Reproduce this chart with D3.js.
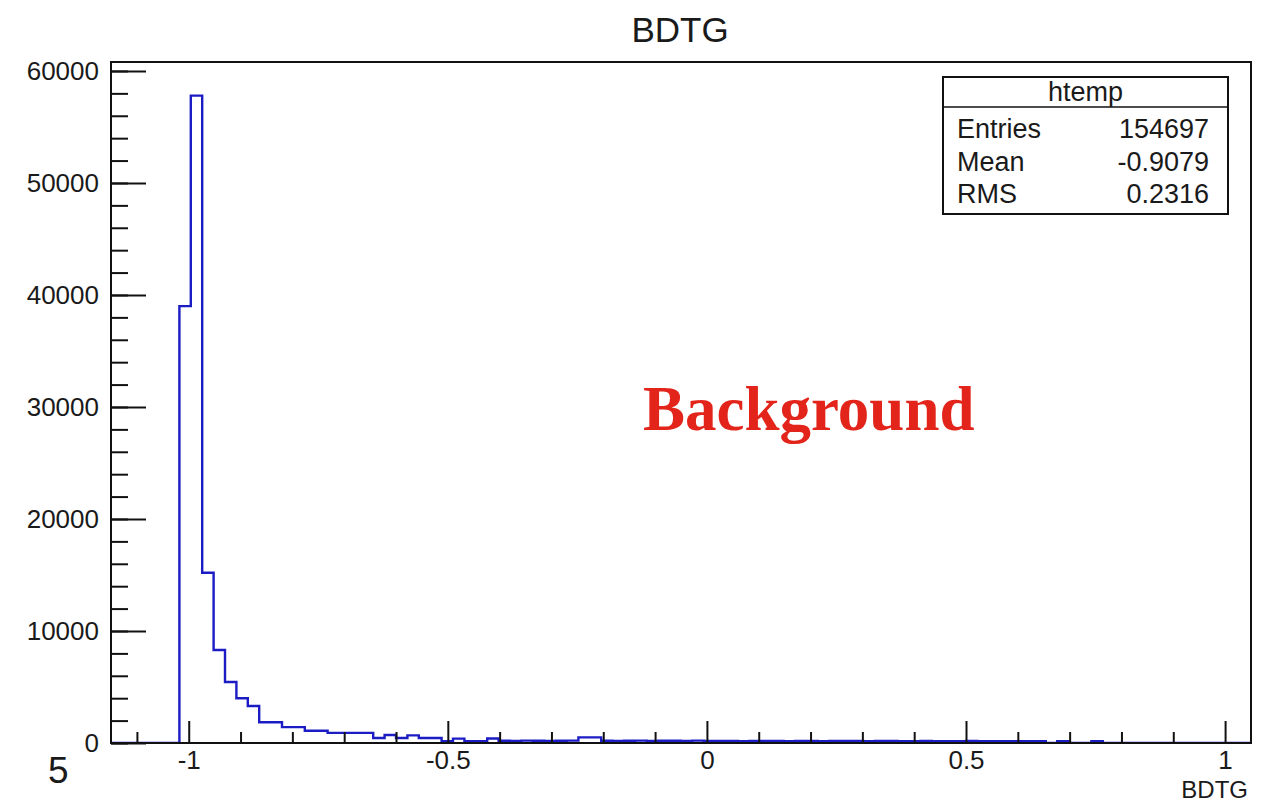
<!DOCTYPE html>
<html>
<head>
<meta charset="utf-8">
<script src="https://cdnjs.cloudflare.com/ajax/libs/d3/7.9.0/d3.min.js"></script>
<style>
  body { margin: 0; background: #fff; }
  text { font-family: "Liberation Sans", Arial, sans-serif; fill: #1a1a1a; }
</style>
</head>
<body>
<div id="chart"></div>
<script>
// histogram range and binning (htemp, 100 bins)
const xMin = -1.15, xMax = 1.05, nBins = 100;

// bin contents
const counts = [
  0, 0, 0, 0, 0, 0, 39000, 57800, 15200, 8300,
  5450, 4000, 3300, 1850, 1850, 1420, 1420, 1100, 1100, 900,
  900, 900, 900, 450, 720, 450, 680, 450, 450, 160,
  390, 170, 170, 400, 200, 190, 210, 200, 190, 200,
  210, 500, 500, 200, 190, 200, 210, 190, 200, 200,
  190, 210, 180, 190, 180, 170, 190, 180, 180, 170,
  190, 180, 170, 180, 190, 180, 170, 180, 180, 170,
  170, 180, 170, 160, 170, 180, 170, 160, 170, 170,
  160, 170, 0, 160, 0, 0, 160, 0, 0, 0,
  0, 0, 0, 0, 0, 0, 0, 0, 0, 0
];

const yMajor = [0, 10000, 20000, 30000, 40000, 50000, 60000];
const xMajor = [-1, -0.5, 0, 0.5, 1];
const xMinor = [-1.1, -0.9, -0.8, -0.7, -0.6, -0.4, -0.3, -0.2, -0.1,
                0.1, 0.2, 0.3, 0.4, 0.6, 0.7, 0.8, 0.9];
const yMinor = d3.range(0, 60800, 2000);

const stats = [["Entries", "154697"], ["Mean", "-0.9079"], ["RMS", "0.2316"]];

const W = 1268, H = 803;
const m = { left: 111, top: 62, right: 1251, bottom: 743 };

const svg = d3.select("#chart").append("svg")
  .attr("width", W).attr("height", H);

const x = d3.scaleLinear().domain([xMin, xMax]).range([m.left, m.right]);
const y = d3.scaleLinear().domain([0, 60800]).range([m.bottom, m.top]);

svg.append("clipPath").attr("id", "plotclip")
  .append("rect")
  .attr("x", m.left).attr("y", m.top)
  .attr("width", m.right - m.left).attr("height", m.bottom - m.top);

// step outline
const binW = (xMax - xMin) / nBins;
const pts = [[xMin, 0]];
counts.forEach((c, i) => {
  pts.push([xMin + i * binW, c]);
  pts.push([xMin + (i + 1) * binW, c]);
});
pts.push([xMax, 0]);

svg.append("path")
  .datum(pts)
  .attr("clip-path", "url(#plotclip)")
  .attr("fill", "none")
  .attr("stroke", "#1c1cc4")
  .attr("stroke-width", 2.4)
  .attr("d", d3.line().x(d => x(d[0])).y(d => y(d[1])));

// y axis (ticks pointing inside)
const gy = svg.append("g").attr("transform", `translate(${m.left},0)`);
gy.call(d3.axisLeft(y).tickValues(yMinor).tickSize(-17).tickFormat(""));
gy.call(g => g.select(".domain").remove());
const gy2 = svg.append("g").attr("transform", `translate(${m.left},0)`);
gy2.call(d3.axisLeft(y).tickValues(yMajor).tickSize(-35).tickPadding(12).tickFormat(d => String(d)));
gy2.call(g => g.select(".domain").remove());

// x axis
const gx = svg.append("g").attr("transform", `translate(0,${m.bottom})`);
gx.call(d3.axisBottom(x).tickValues(xMinor).tickSize(-11).tickFormat(""));
gx.call(g => g.select(".domain").remove());
const gx2 = svg.append("g").attr("transform", `translate(0,${m.bottom})`);
gx2.call(d3.axisBottom(x).tickValues(xMajor).tickSize(-22).tickPadding(8).tickFormat(d => String(d)));
gx2.call(g => g.select(".domain").remove());

svg.selectAll(".tick line").attr("stroke", "#111").attr("stroke-width", 2);
svg.selectAll(".tick text").attr("font-size", 26).attr("fill", "#1a1a1a")
  .style("font-family", "Liberation Sans, Arial, sans-serif");

// frame
svg.append("rect")
  .attr("x", m.left).attr("y", m.top)
  .attr("width", m.right - m.left).attr("height", m.bottom - m.top)
  .attr("fill", "none").attr("stroke", "#111").attr("stroke-width", 2);

// titles
svg.append("text").attr("x", 680).attr("y", 42)
  .attr("text-anchor", "middle").attr("font-size", 35).text("BDTG");
svg.append("text").attr("x", 1248).attr("y", 798)
  .attr("text-anchor", "end").attr("font-size", 24).text("BDTG");

// stats box
const box = { x: 943, y: 77, w: 285, h: 137, head: 30 };
const sb = svg.append("g");
sb.append("rect").attr("x", box.x).attr("y", box.y)
  .attr("width", box.w).attr("height", box.h)
  .attr("fill", "#fff").attr("stroke", "#111").attr("stroke-width", 2);
sb.append("line").attr("x1", box.x).attr("x2", box.x + box.w)
  .attr("y1", box.y + box.head).attr("y2", box.y + box.head)
  .attr("stroke", "#111").attr("stroke-width", 1.5);
sb.append("text").attr("x", box.x + box.w / 2).attr("y", 101)
  .attr("text-anchor", "middle").attr("font-size", 27).text("htemp");
stats.forEach((s, i) => {
  const by = 138 + i * 32.5;
  sb.append("text").attr("x", 957).attr("y", by).attr("font-size", 27).text(s[0]);
  sb.append("text").attr("x", 1209).attr("y", by).attr("text-anchor", "end")
    .attr("font-size", 27).text(s[1]);
});

// overlay annotations
svg.append("text").attr("x", 643).attr("y", 430)
  .style("font-family", "Liberation Serif, Times New Roman, serif")
  .attr("font-weight", "bold").attr("font-size", 63)
  .style("fill", "#e3241b").text("Background");
svg.append("text").attr("x", 48).attr("y", 783)
  .attr("font-size", 37).style("font-weight", 300).text("5");
</script>
</body>
</html>
